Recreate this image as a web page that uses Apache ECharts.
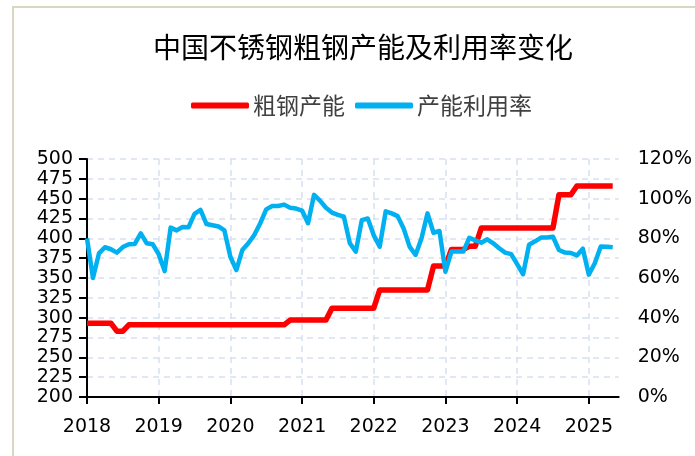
<!DOCTYPE html>
<html>
<head>
<meta charset="utf-8">
<title>中国不锈钢粗钢产能及利用率变化</title>
<script src="https://cdn.jsdelivr.net/npm/echarts@6/dist/echarts.min.js"></script>
<style>
  html, body { margin: 0; padding: 0; background: #fff; }
  .chart-container { position: relative; width: 695px; height: 456px; overflow: hidden; }
  .frame {
    position: absolute; left: 12px; top: 6px; right: -4px; bottom: -4px;
    border-left: 2px solid #d9d6c1; border-top: 2px solid #d9d6c1;
  }
  #chart { position: absolute; left: 0; top: 0; width: 695px; height: 456px; }
</style>
</head>
<body>
<div class="chart-container">
  <div class="frame"></div>
  <div id="chart"></div>
</div>
<script>
// 月度类目：2018-01 ~ 2025-06
const months = [];
for (let y = 2018; y <= 2025; y++) {
  for (let m = 1; m <= 12; m++) {
    if (y === 2025 && m > 6) break;
    months.push(y + "-" + (m < 10 ? "0" + m : m));
  }
}

// 粗钢产能（万吨）
const capacity = [
  293, 293, 293, 293, 293, 283, 283, 291, 291, 291, 291, 291,
  291, 291, 291, 291, 291, 291, 291, 291, 291, 291, 291, 291,
  291, 291, 291, 291, 291, 291, 291, 291, 291, 291, 297, 297,
  297, 297, 297, 297, 297, 312, 312, 312, 312, 312, 312, 312,
  312, 335, 335, 335, 335, 335, 335, 335, 335, 335, 365, 365,
  365, 386, 386, 386, 390, 390, 413, 413, 413, 413, 413, 413,
  413, 413, 413, 413, 413, 413, 413, 455, 455, 455, 466, 466,
  466, 466, 466, 466, 466
];

// 产能利用率（%）
const utilization = [
  80, 60, 72.4, 75.5, 74.5, 72.8, 75.6, 77, 77.2, 82.5, 77.5, 77,
  72, 63.5, 85.4, 84, 85.7, 85.6, 92.3, 94.3, 87.2, 86.6, 86, 84,
  70.7, 64, 74.1, 77.5, 81.7, 87.6, 94.6, 96.3, 96.3, 97, 95.4, 95,
  94, 87.6, 101.9, 99, 95.4, 93, 91.8, 90.9, 77.5, 73.3, 89.2, 90,
  81.5, 75.8, 93.6, 92.6, 91.2, 85, 75.8, 71.6, 80, 92.6, 82.8, 83.7,
  63.2, 73.3, 73.3, 73.3, 80.3, 79, 77.8, 79.5, 77.5, 75, 72.8, 72,
  67, 61.9, 76.8, 78.5, 80.4, 80.4, 80.8, 74.1, 72.8, 72.6, 71.4, 74.8,
  61.7, 67.4, 75.9, 75.8, 75.5
];

const seriesNames = ["粗钢产能", "产能利用率"];

const numFont = "DejaVu Sans";
const cjkFont = "Noto Sans CJK SC";
const gridColor = "#d7e0ef";

const isYearStart = function (idx) {
  return idx % 12 === 0;
};

const chart = echarts.init(document.getElementById("chart"));

const option = {
  animation: false,
  backgroundColor: "transparent",
  title: {
    text: "中国不锈钢粗钢产能及利用率变化",
    left: 148,
    top: 28,
    textStyle: {
      fontFamily: cjkFont,
      fontSize: 28,
      fontWeight: "normal",
      color: "#000",
    },
  },
  legend: {
    left: 186,
    top: 89,
    itemWidth: 58,
    itemHeight: 6,
    itemGap: 10,
    icon: "roundRect",
    textStyle: {
      fontFamily: cjkFont,
      fontSize: 23,
      color: "#404040",
      padding: [0, 0, 0, -1],
    },
    data: seriesNames,
  },
  grid: {
    left: 87,
    right: 75,
    top: 159,
    bottom: 59,
    containLabel: false,
  },
  xAxis: {
    type: "category",
    data: months,
    boundaryGap: false,
    axisLine: {
      lineStyle: { color: "#000", width: 2 },
    },
    axisTick: {
      show: true,
      interval: isYearStart,
      length: 7,
      lineStyle: { color: "#000", width: 2 },
    },
    axisLabel: {
      interval: isYearStart,
      margin: 21,
      fontFamily: numFont,
      fontSize: 19,
      color: "#000",
      formatter: function (v) {
        return v.slice(0, 4);
      },
    },
    splitLine: {
      show: true,
      interval: isYearStart,
      lineStyle: { color: gridColor, type: [6, 5], width: 1.5 },
    },
  },
  yAxis: [
    {
      type: "value",
      min: 200,
      max: 500,
      interval: 25,
      axisLine: {
        show: true,
        lineStyle: { color: "#000", width: 2 },
      },
      axisTick: {
        show: true,
        length: 8,
        lineStyle: { color: "#000", width: 2 },
      },
      axisLabel: {
        margin: 14,
        fontFamily: numFont,
        fontSize: 19,
        color: "#000",
      },
      splitLine: {
        lineStyle: { color: gridColor, type: [6, 5], width: 1.5 },
      },
    },
    {
      type: "value",
      min: 0,
      max: 120,
      interval: 20,
      axisLine: { show: false },
      axisTick: { show: false },
      splitLine: { show: false },
      axisLabel: {
        margin: 19,
        fontFamily: numFont,
        fontSize: 19,
        color: "#000",
        formatter: "{value}%",
      },
    },
  ],
  series: [
    {
      name: seriesNames[0],
      type: "line",
      yAxisIndex: 0,
      data: capacity,
      symbol: "none",
      color: "#ff0000",
      lineStyle: { width: 5.5, color: "#ff0000", join: "round" },
      z: 2,
    },
    {
      name: seriesNames[1],
      type: "line",
      yAxisIndex: 1,
      data: utilization,
      symbol: "none",
      color: "#00b0f0",
      lineStyle: { width: 4.5, color: "#00b0f0", join: "round" },
      z: 3,
    },
  ],
};

chart.setOption(option);
</script>
</body>
</html>
